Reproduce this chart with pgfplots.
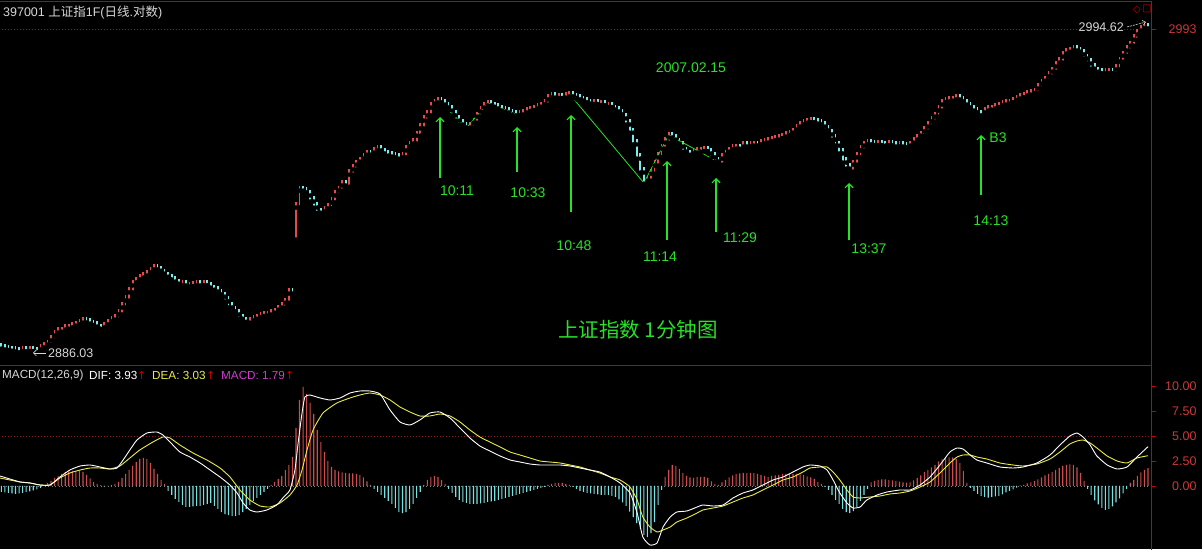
\documentclass[border=0pt]{standalone}
\usepackage{fontspec}
\setmainfont{Liberation Sans}
\newfontfamily\cjk{Noto Sans CJK SC}
\newfontfamily\dv{DejaVu Sans}
\usepackage{pgfplots}
\pgfplotsset{compat=1.18}
\usepackage{pgfplotstable}
\usetikzlibrary{arrows.meta}

\definecolor{cUp}{RGB}{230,75,75}
\definecolor{cDn}{RGB}{120,235,235}
\definecolor{hUp}{RGB}{210,75,75}
\definecolor{hDn}{RGB}{120,225,225}
\definecolor{cFrame}{RGB}{200,0,0}
\definecolor{cDot}{RGB}{140,25,25}
\definecolor{cLab}{RGB}{205,55,55}
\definecolor{cGrn}{RGB}{40,225,40}
\definecolor{cTxt}{RGB}{215,215,215}
\definecolor{cYel}{RGB}{235,235,70}
\definecolor{cMag}{RGB}{205,60,205}

\pgfplotstableread{
i o c
-83 2888.0 2887.7
-82 2887.7 2887.5
-81 2887.5 2887.3
-80 2887.3 2887.0
-79 2887.0 2886.8
-78 2886.8 2886.5
-77 2886.5 2887.1
-76 2887.1 2886.9
-75 2886.9 2887.2
-74 2887.2 2886.9
-73 2886.9 2886.6
-72 2886.6 2887.7
-71 2887.7 2888.4
-70 2888.4 2889.3
-69 2889.3 2890.7
-68 2890.7 2892.3
-67 2892.3 2893.3
-66 2893.3 2893.6
-65 2893.6 2894.3
-64 2894.3 2894.6
-63 2894.6 2895.0
-62 2895.0 2895.6
-61 2895.6 2896.0
-60 2896.0 2896.6
-59 2896.6 2896.3
-58 2896.3 2895.8
-57 2895.8 2895.3
-56 2895.3 2894.6
-55 2894.6 2894.3
-54 2894.3 2895.0
-53 2895.0 2896.0
-52 2896.0 2897.0
-51 2897.0 2897.6
-50 2897.6 2899.3
-49 2899.3 2901.6
-48 2901.6 2903.9
-47 2903.9 2906.6
-46 2906.6 2908.9
-45 2908.9 2909.9
-44 2909.9 2910.9
-43 2910.9 2911.5
-42 2911.5 2912.2
-41 2912.2 2913.2
-40 2913.2 2914.2
-39 2914.2 2913.8
-38 2913.8 2912.8
-37 2912.8 2911.8
-36 2911.8 2910.9
-35 2910.9 2910.2
-34 2910.2 2909.5
-33 2909.5 2908.7
-32 2908.7 2908.9
-31 2908.9 2908.2
-30 2908.2 2908.5
-29 2908.5 2908.7
-28 2908.7 2908.9
-27 2908.9 2908.7
-26 2908.7 2909.0
-25 2909.0 2908.2
-24 2908.2 2907.5
-23 2907.5 2906.9
-22 2906.9 2905.9
-21 2905.9 2905.2
-20 2905.2 2903.6
-19 2903.6 2901.6
-18 2901.6 2900.3
-17 2900.3 2899.3
-16 2899.3 2897.9
-15 2897.9 2896.9
-14 2896.9 2896.1
-13 2896.1 2896.6
-12 2896.6 2897.3
-11 2897.3 2897.9
-10 2897.9 2898.4
-9 2898.4 2898.8
-8 2898.8 2898.9
-7 2898.9 2899.3
-6 2899.3 2899.9
-5 2899.9 2900.9
-4 2900.9 2901.6
-3 2901.6 2903.2
-2 2903.2 2906.2
-1 2906.2 2905.6
0 2924.1 2934.7
1 2934.7 2940.3
2 2940.3 2939.7
3 2939.7 2938.7
4 2938.7 2936.7
5 2936.7 2934.7
6 2934.7 2933.0
7 2933.0 2932.4
8 2932.4 2933.4
9 2933.4 2934.4
10 2934.4 2936.4
11 2936.4 2938.7
12 2938.7 2940.3
13 2940.3 2942.0
14 2942.0 2941.6
15 2941.6 2945.6
16 2945.6 2947.3
17 2947.3 2948.9
18 2948.9 2949.9
19 2949.9 2950.9
20 2950.9 2952.2
21 2952.2 2951.9
22 2951.9 2952.9
23 2952.9 2953.6
24 2953.6 2952.6
25 2952.6 2951.9
26 2951.9 2951.6
27 2951.6 2951.3
28 2951.3 2950.9
29 2950.9 2950.6
30 2950.6 2951.3
31 2951.3 2953.6
32 2953.6 2954.9
33 2954.9 2955.9
34 2955.9 2958.5
35 2958.5 2960.9
36 2960.9 2963.5
37 2963.5 2965.2
38 2965.2 2967.8
39 2967.8 2969.1
40 2969.1 2969.5
41 2969.5 2968.8
42 2968.8 2967.8
43 2967.8 2966.8
44 2966.8 2965.2
45 2965.2 2963.5
46 2963.5 2962.2
47 2962.2 2961.2
48 2961.2 2960.2
49 2960.2 2961.2
50 2961.2 2962.8
51 2962.8 2964.8
52 2964.8 2966.5
53 2966.5 2967.8
54 2967.8 2968.5
55 2968.5 2968.1
56 2968.1 2967.5
57 2967.5 2966.8
58 2966.8 2966.5
59 2966.5 2966.2
60 2966.2 2965.5
61 2965.5 2965.2
62 2965.2 2964.8
63 2964.8 2965.2
64 2965.2 2965.5
65 2965.5 2966.2
66 2966.2 2966.7
67 2966.7 2967.0
68 2967.0 2967.5
69 2967.5 2968.1
70 2968.1 2968.8
71 2968.8 2970.5
72 2970.5 2971.1
73 2971.1 2970.7
74 2970.7 2971.0
75 2971.0 2970.8
76 2970.8 2971.1
77 2971.1 2971.5
78 2971.5 2971.0
79 2971.0 2970.5
80 2970.5 2970.1
81 2970.1 2969.6
82 2969.6 2969.1
83 2969.1 2968.8
84 2968.8 2969.0
85 2969.0 2968.5
86 2968.5 2968.6
87 2968.6 2967.8
88 2967.8 2968.0
89 2968.0 2967.1
90 2967.1 2966.5
91 2966.5 2965.5
92 2965.5 2964.2
93 2964.2 2962.2
94 2962.2 2959.5
95 2959.5 2955.6
96 2955.6 2950.9
97 2950.9 2946.3
98 2946.3 2942.6
99 2942.6 2943.6
100 2943.6 2945.9
101 2945.9 2948.6
102 2948.6 2951.3
103 2951.3 2954.2
104 2954.2 2956.2
105 2956.2 2957.9
106 2957.9 2957.2
107 2957.2 2955.9
108 2955.9 2954.9
109 2954.9 2953.2
110 2953.2 2952.2
111 2952.2 2951.9
112 2951.9 2952.6
113 2952.6 2952.9
114 2952.9 2953.2
115 2953.2 2953.4
116 2953.4 2952.6
117 2952.6 2951.3
118 2951.3 2949.9
119 2949.9 2948.9
120 2948.9 2950.9
121 2950.9 2952.2
122 2952.2 2953.2
123 2953.2 2953.9
124 2953.9 2954.2
125 2954.2 2954.0
126 2954.0 2954.9
127 2954.9 2954.7
128 2954.7 2955.0
129 2955.0 2955.2
130 2955.2 2955.0
131 2955.0 2955.6
132 2955.6 2955.9
133 2955.9 2956.2
134 2956.2 2956.7
135 2956.7 2957.0
136 2957.0 2957.2
137 2957.2 2957.7
138 2957.7 2958.2
139 2958.2 2958.7
140 2958.7 2959.5
141 2959.5 2960.5
142 2960.5 2961.5
143 2961.5 2962.2
144 2962.2 2962.8
145 2962.8 2963.0
146 2963.0 2962.5
147 2962.5 2962.2
148 2962.2 2961.5
149 2961.5 2960.2
150 2960.2 2958.9
151 2958.9 2957.2
152 2957.2 2955.2
153 2955.2 2952.6
154 2952.6 2949.6
155 2949.6 2947.6
156 2947.6 2946.6
157 2946.6 2948.9
158 2948.9 2951.3
159 2951.3 2953.6
160 2953.6 2955.2
161 2955.2 2955.6
162 2955.6 2955.4
163 2955.4 2955.2
164 2955.2 2955.4
165 2955.4 2955.2
166 2955.2 2955.1
167 2955.1 2955.3
168 2955.3 2954.9
169 2954.9 2954.7
170 2954.7 2954.9
171 2954.9 2954.6
172 2954.6 2954.4
173 2954.4 2955.2
174 2955.2 2956.2
175 2956.2 2957.2
176 2957.2 2958.5
177 2958.5 2959.9
178 2959.9 2961.5
179 2961.5 2963.2
180 2963.2 2964.8
181 2964.8 2966.8
182 2966.8 2968.8
183 2968.8 2969.6
184 2969.6 2969.8
185 2969.8 2970.1
186 2970.1 2970.5
187 2970.5 2969.8
188 2969.8 2968.8
189 2968.8 2967.8
190 2967.8 2966.8
191 2966.8 2966.2
192 2966.2 2965.2
193 2965.2 2965.0
194 2965.0 2966.2
195 2966.2 2966.8
196 2966.8 2967.1
197 2967.1 2967.5
198 2967.5 2968.0
199 2968.0 2968.5
200 2968.5 2968.8
201 2968.8 2969.1
202 2969.1 2969.6
203 2969.6 2970.3
204 2970.3 2970.8
205 2970.8 2971.3
206 2971.3 2971.8
207 2971.8 2972.1
208 2972.1 2972.6
209 2972.6 2974.1
210 2974.1 2975.7
211 2975.7 2976.7
212 2976.7 2978.1
213 2978.1 2979.7
214 2979.7 2981.4
215 2981.4 2982.7
216 2982.7 2984.7
217 2984.7 2985.7
218 2985.7 2986.3
219 2986.3 2986.7
220 2986.7 2986.3
221 2986.3 2985.4
222 2985.4 2984.0
223 2984.0 2982.4
224 2982.4 2980.7
225 2980.7 2979.7
226 2979.7 2979.2
227 2979.2 2978.7
228 2978.7 2979.1
229 2979.1 2979.2
230 2979.2 2979.0
231 2979.0 2980.4
232 2980.4 2983.0
233 2983.0 2985.0
234 2985.0 2986.7
235 2986.7 2988.3
236 2988.3 2990.3
237 2990.3 2992.0
238 2992.0 2993.3
239 2993.3 2994.0
240 2994.0 2993.8
}\price

\pgfplotstableread{
i h
-83 -0.60
-82 -0.65
-81 -0.70
-80 -0.75
-79 -0.80
-78 -0.75
-77 -0.70
-76 -0.60
-75 -0.55
-74 -0.45
-73 -0.35
-72 -0.20
-71 0.10
-70 0.30
-69 0.50
-68 0.80
-67 1.00
-66 1.20
-65 1.40
-64 1.45
-63 1.50
-62 1.50
-61 1.50
-60 1.40
-59 1.10
-58 0.75
-57 0.40
-56 0.20
-55 0.05
-54 -0.05
-53 0.00
-52 0.10
-51 0.20
-50 0.40
-49 0.80
-48 1.20
-47 1.60
-46 2.00
-45 2.40
-44 2.70
-43 2.80
-42 2.70
-41 2.30
-40 1.70
-39 1.20
-38 0.60
-37 0.20
-36 -0.50
-35 -0.90
-34 -1.30
-33 -1.60
-32 -1.90
-31 -2.10
-30 -2.10
-29 -2.05
-28 -2.00
-27 -2.00
-26 -1.90
-25 -1.80
-24 -1.70
-23 -2.00
-22 -2.30
-21 -2.60
-20 -2.80
-19 -2.90
-18 -3.00
-17 -3.00
-16 -2.90
-15 -2.60
-14 -2.30
-13 -1.90
-12 -1.50
-11 -1.20
-10 -0.90
-9 -0.60
-8 -0.30
-7 0.10
-6 0.40
-5 0.70
-4 1.00
-3 1.60
-2 2.10
-1 2.90
0 5.80
1 8.60
2 9.90
3 9.20
4 8.30
5 7.20
6 5.60
7 4.40
8 3.40
9 2.50
10 1.90
11 1.60
12 1.45
13 1.35
14 1.30
15 1.27
16 1.25
17 1.20
18 1.10
19 0.85
20 0.45
21 0.10
22 -0.30
23 -0.60
24 -0.90
25 -1.20
26 -1.50
27 -1.80
28 -2.20
29 -2.60
30 -2.70
31 -2.60
32 -2.30
33 -1.80
34 -1.20
35 -0.60
36 0.10
37 0.60
38 0.90
39 1.00
40 0.90
41 0.60
42 0.20
43 -0.30
44 -0.70
45 -1.10
46 -1.40
47 -1.60
48 -1.70
49 -1.80
50 -1.80
51 -1.80
52 -1.75
53 -1.70
54 -1.60
55 -1.55
56 -1.50
57 -1.40
58 -1.30
59 -1.20
60 -1.10
61 -1.00
62 -0.90
63 -0.80
64 -0.70
65 -0.60
66 -0.50
67 -0.40
68 -0.30
69 -0.20
70 -0.10
71 0.10
72 0.20
73 0.30
74 0.30
75 0.30
76 0.20
77 0.10
78 -0.10
79 -0.30
80 -0.50
81 -0.60
82 -0.70
83 -0.75
84 -0.80
85 -0.85
86 -0.90
87 -0.90
88 -0.90
89 -1.00
90 -1.10
91 -1.35
92 -1.65
93 -2.00
94 -2.55
95 -3.10
96 -3.70
97 -4.30
98 -4.90
99 -5.10
100 -4.70
101 -3.60
102 -1.90
103 -0.40
104 0.90
105 1.60
106 2.10
107 2.00
108 1.70
109 1.30
110 1.00
111 0.85
112 0.80
113 0.90
114 0.90
115 0.90
116 0.80
117 0.45
118 0.20
119 0.10
120 0.35
121 0.60
122 0.85
123 1.05
124 1.20
125 1.25
126 1.30
127 1.30
128 1.30
129 1.30
130 1.20
131 1.10
132 1.00
133 0.90
134 1.00
135 1.05
136 1.10
137 1.20
138 1.20
139 1.20
140 1.20
141 1.20
142 1.15
143 1.10
144 0.95
145 0.85
146 0.70
147 0.40
148 0.20
149 -0.10
150 -0.40
151 -0.90
152 -1.40
153 -1.80
154 -2.30
155 -2.60
156 -2.70
157 -2.50
158 -2.10
159 -1.50
160 -0.90
161 -0.30
162 0.35
163 0.50
164 0.60
165 0.65
166 0.65
167 0.60
168 0.55
169 0.50
170 0.43
171 0.35
172 0.33
173 0.35
174 0.55
175 0.80
176 1.05
177 1.40
178 1.60
179 1.85
180 2.10
181 2.45
182 2.65
183 2.80
184 2.87
185 2.85
186 2.70
187 2.30
188 1.50
189 0.30
190 -0.20
191 -0.50
192 -0.80
193 -1.00
194 -1.10
195 -1.17
196 -1.10
197 -1.05
198 -1.00
199 -0.85
200 -0.65
201 -0.50
202 -0.33
203 -0.17
204 0.05
205 0.12
206 0.25
207 0.35
208 0.50
209 0.67
210 0.85
211 1.05
212 1.22
213 1.40
214 1.60
215 1.80
216 2.00
217 2.12
218 2.17
219 2.10
220 1.85
221 1.30
222 0.50
223 -0.30
224 -0.90
225 -1.45
226 -1.85
227 -2.20
228 -2.38
229 -2.30
230 -2.05
231 -1.65
232 -1.25
233 -0.75
234 -0.30
235 0.30
236 0.60
237 1.00
238 1.35
239 1.60
240 1.79
}\hist

\pgfplotstableread{
i v
-83.4 1.0
-80.6 0.7
-77.7 0.4
-74.9 0.3
-72.1 0.1
-69.3 0.1
-66.5 0.9
-63.7 1.6
-60.8 2.0
-58.0 2.1
-55.2 1.9
-52.4 1.7
-50.4 1.8
-48.7 2.6
-46.8 3.6
-44.8 4.6
-42.0 5.3
-39.2 5.4
-37.5 5.1
-35.5 4.4
-32.7 3.4
-29.9 2.9
-27.0 2.3
-24.2 1.6
-21.4 0.9
-18.6 0.1
-16.6 -0.7
-14.9 -1.7
-13.0 -2.4
-11.0 -2.6
-8.2 -2.4
-5.4 -1.9
-3.7 -1.2
-1.7 -0.4
-0.3 1.6
0.6 4.3
1.7 7.3
2.5 8.9
3.9 9.1
6.8 8.8
9.6 8.6
12.4 8.8
15.2 9.3
18.0 9.5
20.8 9.5
23.7 9.2
26.5 7.6
29.3 6.4
32.1 6.1
34.9 6.6
37.7 7.3
40.6 7.4
43.4 6.8
46.2 5.8
49.0 4.8
51.8 4.0
54.6 3.5
57.5 3.0
60.3 2.6
63.1 2.4
65.9 2.2
68.7 2.1
71.5 2.1
74.4 2.1
77.2 2.0
80.0 1.8
82.8 1.6
85.6 1.4
88.5 0.9
91.3 0.3
94.1 -0.7
96.1 -2.7
97.7 -5.1
99.7 -5.9
101.7 -5.7
103.4 -4.1
105.4 -3.1
107.3 -2.6
110.1 -2.5
113.0 -2.1
114.6 -1.9
117.5 -2.0
120.3 -1.9
123.1 -1.2
125.9 -0.7
128.7 -0.4
131.5 0.1
134.4 0.6
137.2 0.9
140.0 1.4
142.8 1.9
144.8 2.1
147.6 2.0
149.6 1.6
151.3 0.6
153.2 -0.7
155.2 -1.7
156.9 -2.2
158.9 -2.1
160.8 -1.4
163.7 -0.9
166.5 -0.6
170.1 -0.4
173.0 -0.4
175.8 0.1
178.6 0.9
181.4 2.1
184.2 3.4
186.2 3.8
187.9 3.7
189.9 3.1
191.8 2.6
194.6 2.3
198.3 1.9
202.0 1.8
204.8 1.9
208.7 2.3
212.4 3.1
215.2 4.1
218.0 5.0
220.0 5.3
221.7 4.9
223.7 4.1
225.6 3.0
228.5 2.1
231.3 1.7
234.1 1.9
236.9 2.9
240.0 3.93
}\dif

\pgfplotstableread{
i v
-83.4 0.8
-80.6 0.6
-77.7 0.4
-74.9 0.3
-72.1 0.1
-69.3 0.1
-66.5 0.8
-63.7 1.3
-60.8 1.6
-58.0 1.8
-55.2 1.8
-52.4 1.7
-49.6 2.0
-46.8 2.8
-44.0 3.6
-40.3 4.4
-37.5 4.9
-35.5 4.8
-32.7 4.1
-29.0 3.3
-25.1 2.6
-21.4 1.8
-18.6 0.9
-15.8 -0.4
-13.0 -1.4
-10.1 -2.0
-7.3 -2.1
-4.5 -1.7
-1.7 -0.9
0.3 0.1
1.7 1.6
3.1 3.6
4.8 5.6
7.6 7.3
11.5 8.3
15.2 8.8
18.0 9.1
20.8 9.3
23.7 9.1
26.5 8.6
29.3 7.9
32.1 7.4
34.9 7.0
37.7 7.0
40.6 7.2
43.4 7.0
46.2 6.4
49.0 5.6
51.8 4.9
54.6 4.4
57.5 3.9
60.3 3.4
63.1 3.1
65.9 2.8
68.7 2.5
71.5 2.4
74.4 2.3
77.2 2.1
80.0 1.9
82.8 1.6
85.6 1.3
88.5 0.9
91.3 0.6
94.1 -0.1
96.1 -1.4
97.7 -3.1
99.7 -4.1
101.7 -4.6
103.4 -4.4
105.4 -4.1
107.3 -3.6
110.1 -3.2
113.0 -2.7
114.6 -2.4
117.5 -2.2
120.3 -2.0
123.1 -1.6
125.9 -1.2
128.7 -0.9
131.5 -0.4
134.4 0.1
137.2 0.6
140.0 0.9
142.8 1.4
144.8 1.8
147.6 1.9
149.6 1.9
151.3 1.4
153.2 0.6
155.2 -0.4
156.9 -1.1
158.9 -1.2
161.7 -1.1
164.5 -1.0
167.3 -0.8
170.1 -0.7
173.0 -0.5
175.8 -0.1
178.6 0.4
181.4 1.3
184.2 2.3
186.2 2.9
187.9 3.1
189.9 3.1
191.8 2.9
194.6 2.7
198.3 2.3
202.0 2.1
204.8 2.0
208.7 2.2
212.4 2.7
215.2 3.4
218.0 4.2
220.0 4.5
221.7 4.6
223.7 4.3
225.6 3.8
228.5 3.0
231.3 2.5
234.1 2.3
236.9 2.8
240.0 3.03
}\dea

\begin{document}
\begin{tikzpicture}
\fill[black] (0pt,0pt) rectangle (1202pt,549pt);

% ---------------- price panel ----------------
\begin{axis}[
  at={(-1pt,183pt)}, anchor=south west, scale only axis,
  width=1152pt, height=364pt,
  xmin=-83.66, xmax=240.85, ymin=2881.39, ymax=3001.91,
  axis line style={draw=cFrame, line width=1pt},
  xtick=\empty, ytick={2993}, ytick pos=right, tick align=outside,
  major tick length=5pt, ytick style={draw=cFrame, line width=0.8pt},
  /pgf/number format/assume math mode=true,
  yticklabel style={font=\fontsize{12.5}{13}\selectfont, text=cLab, anchor=east, xshift=44pt,
    /pgf/number format/1000 sep={}},
  clip=true]
\draw[cDot, line width=0.8pt, dash pattern=on 1pt off 2pt] (axis cs:-83.66,2993) -- (axis cs:240.85,2993);
% up bars (red)
\addplot[only marks, mark=none, forget plot,
  error bars/.cd, y dir=plus, y explicit, error mark=none,
  error bar style={draw=cUp, line width=1.7pt}]
  table[x=i, y expr=\thisrow{o}-0.85,
        y error expr={(\thisrow{c}>=\thisrow{o})*(\thisrow{c}-\thisrow{o}+1.7)}] {\price};
% down bars (cyan)
\addplot[only marks, mark=none, forget plot,
  error bars/.cd, y dir=plus, y explicit, error mark=none,
  error bar style={draw=cDn, line width=1.7pt}]
  table[x=i, y expr=\thisrow{c}-0.85,
        y error expr={(\thisrow{c}<\thisrow{o})*(\thisrow{o}-\thisrow{c}+1.7)}] {\price};
% green trend lines
\addplot[cGrn, line width=0.8pt] coordinates {(40,2969.5) (48,2960.2) (54,2968.5) (62,2964.8)};
\addplot[cGrn, line width=0.8pt] coordinates {(77,2971.5) (98,2942.0) (105,2957.9) (119,2948.9)};
\end{axis}

% ---------------- MACD panel ----------------
\begin{axis}[
  at={(-1pt,-1pt)}, anchor=south west, scale only axis,
  width=1152pt, height=184pt,
  xmin=-83.66, xmax=240.85, ymin=-6.4, ymax=12,
  axis line style={draw=cFrame, line width=1pt},
  xtick=\empty, ytick={0,2.5,5,7.5,10}, ytick pos=right, tick align=outside,
  major tick length=5pt, ytick style={draw=cFrame, line width=0.8pt},
  /pgf/number format/assume math mode=true,
  yticklabel style={font=\fontsize{12.5}{13}\selectfont, text=cLab, anchor=east, xshift=44pt,
    /pgf/number format/.cd, fixed, fixed zerofill, precision=2},
  clip=true]
\draw[cDot, line width=0.8pt, dash pattern=on 1pt off 2pt] (axis cs:-83.66,5) -- (axis cs:240.85,5);
\draw[gray, line width=0.6pt, dash pattern=on 1pt off 2.5pt] (axis cs:-83.66,0) -- (axis cs:240.85,0);
\addplot[ybar, bar width=1.1pt, bar shift=0pt, fill=hUp, draw=none, forget plot]
  table[x=i, y expr={max(\thisrow{h},0)}] {\hist};
\addplot[ybar, bar width=1.1pt, bar shift=0pt, fill=hDn, draw=none, forget plot]
  table[x=i, y expr={min(\thisrow{h},0)}] {\hist};
\addplot[cYel, line width=0.9pt, smooth, tension=0.3] table[x=i, y=v] {\dea};
\addplot[white, line width=0.9pt, smooth, tension=0.3] table[x=i, y=v] {\dif};
\end{axis}

% ---------------- annotations ----------------
\begin{scope}[x=1pt, y=1pt]
\node[anchor=west, text=cTxt, inner sep=0pt, font=\fontsize{12.5}{13}\selectfont] at (3,536)
  {397001 {\cjk 上证指}1F({\cjk 日线}.{\cjk 对数})};
\node[text=cFrame, inner sep=0pt, font=\dv\fontsize{10}{10}\selectfont] at (1137,539) {◇};
\node[text=cFrame, inner sep=0pt, font=\dv\fontsize{10}{10}\selectfont] at (1147,540) {□};
\node[anchor=east, text=cTxt, inner sep=0pt, font=\fontsize{12.5}{13}\selectfont] at (1124,522) {2994.62};
\draw[cTxt, line width=0.6pt, dash pattern=on 2pt off 1pt, -{Straight Barb[length=3pt,width=5pt]}] (1127,522) -- (1146,527);
\node[anchor=west, text=cTxt, inner sep=0pt, font=\fontsize{12.5}{13}\selectfont] at (48,196) {2886.03};
\draw[cTxt, line width=0.6pt, -{Straight Barb[length=3pt,width=6pt]}] (46,196) -- (33,196);

% arrows
\foreach \x/\ya/\yb in {440/371/432, 517/377/422, 571/337/434, 667/309/388, 716/317/371, 849/309/366, 981/354/414}
  \draw[cGrn, line width=1.1pt, -{Straight Barb[length=4pt,width=8pt]}] (\x,\ya) -- (\x,\yb);
\begin{scope}[every node/.style={text=cGrn, inner sep=0pt, font=\fontsize{14}{14}\selectfont}]
\node at (457,358) {10:11};
\node at (528,356) {10:33};
\node at (574,303) {10:48};
\node at (660,292) {11:14};
\node at (740,311) {11:29};
\node at (869,300) {13:37};
\node at (991,328) {14:13};
\node at (998,411) {B3};
\node at (691,481) {2007.02.15};
\end{scope}
\node[text=cGrn, inner sep=0pt, font=\cjk\fontsize{20.5}{21}\selectfont] at (638,219) {上证指数 1分钟图};

% MACD header
\begin{scope}[every node/.style={anchor=west, inner sep=0pt, font=\fontsize{11.7}{12}\selectfont}]
\node[text=cTxt] at (2,174) {MACD(12,26,9)};
\node[text=white] at (89,174) {DIF: 3.93};
\node[text=cFrame, font=\dv\fontsize{11}{12}\selectfont] at (137,174) {↑};
\node[text=cYel] at (152,174) {DEA: 3.03};
\node[text=cFrame, font=\dv\fontsize{11}{12}\selectfont] at (206,174) {↑};
\node[text=cMag] at (221,174) {MACD: 1.79};
\node[text=cFrame, font=\dv\fontsize{11}{12}\selectfont] at (285,174) {↑};
\end{scope}
\end{scope}

\pgfresetboundingbox
\path[use as bounding box] (0pt,0pt) rectangle (1202pt,549pt);
\end{tikzpicture}
\end{document}
